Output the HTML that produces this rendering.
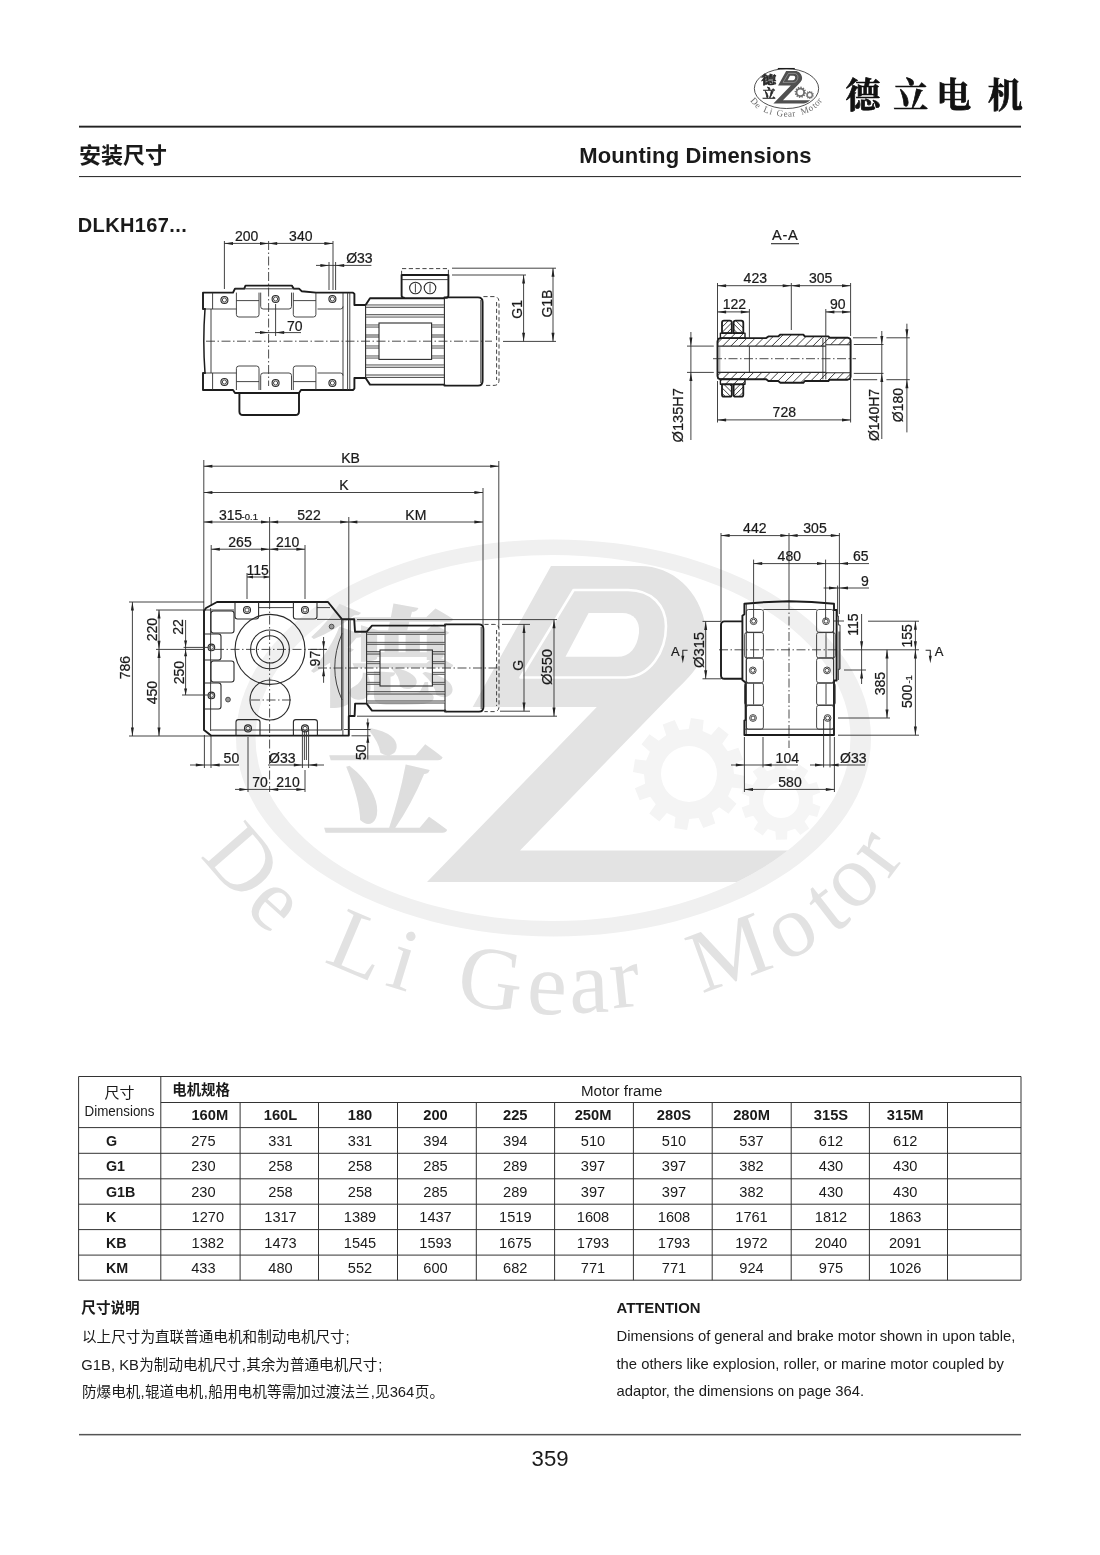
<!DOCTYPE html>
<html lang="zh"><head><meta charset="utf-8"><title>DLKH167 Mounting Dimensions</title>
<style>
html,body{margin:0;padding:0;background:#fff;}
body{width:1100px;height:1555px;overflow:hidden;font-family:"Liberation Sans","Noto Sans CJK SC",sans-serif;}
svg{display:block;position:absolute;left:0;top:0;will-change:transform;}
svg text{font-family:"Liberation Sans","Noto Sans CJK SC",sans-serif;fill:#1a1a1a;}
.o{fill:none;stroke:#1c1c1c;stroke-width:1.9;stroke-linejoin:round;stroke-linecap:round}
.m{fill:none;stroke:#2a2a2a;stroke-width:1.1;stroke-linejoin:round}
.t{fill:none;stroke:#2e2e2e;stroke-width:0.9}
.n{fill:none;stroke:#333;stroke-width:0.9;stroke-linejoin:round}
.c{fill:none;stroke:#2e2e2e;stroke-width:0.85;stroke-dasharray:9 2.5 1.5 2.5}
.h{fill:none;stroke:#2e2e2e;stroke-width:0.9;stroke-dasharray:4.2 2.6}
#d1 text,#d2 text,#d3 text,#d4 text{stroke:#1a1a1a;stroke-width:0.22px}
.a{fill:#222;stroke:none}
.wmb text,.lgb text{font-family:"Liberation Serif","Noto Serif CJK SC",serif;font-weight:bold;font-size:1000px}
.wmb text{fill:#dedede;stroke:#dedede;stroke-width:14}
.lgb text{fill:#2a2a2a;stroke:#2a2a2a;stroke-width:50}
.wmt text,.lgt text{font-family:"Liberation Serif",serif;font-size:89px}
.wmt text{fill:#e2e2e2}
.lgt text{fill:#6a6a6a}
</style></head><body>
<svg width="1100" height="1555" viewBox="0 0 1100 1555">
<g id="wm">
<path d="M236.0,738A317.5,198.5 0 1 0 871.0,738A317.5,198.5 0 1 0 236.0,738ZM255.5,738A297.5,183 0 1 0 850.5,738A297.5,183 0 1 0 255.5,738Z" fill="#f0f0f0" fill-rule="evenodd"/>
<defs><clipPath id="wmc"><ellipse cx="553" cy="738" rx="297.5" ry="183"/></clipPath></defs>
<path d="M745.0,775.9L743.0,788.7L731.9,787.6L728.1,796.2L736.5,803.7L728.5,813.7L719.3,807.2L711.8,812.8L715.3,823.4L703.3,828.1L698.7,817.9L689.3,819.0L687.1,830.0L674.3,828.0L675.4,816.9L666.8,813.1L659.3,821.5L649.3,813.5L655.8,804.3L650.2,796.8L639.6,800.3L634.9,788.3L645.1,783.7L644.0,774.3L633.0,772.1L635.0,759.3L646.1,760.4L649.9,751.8L641.5,744.3L649.5,734.3L658.7,740.8L666.2,735.2L662.7,724.6L674.7,719.9L679.3,730.1L688.7,729.0L690.9,718.0L703.7,720.0L702.6,731.1L711.2,734.9L718.7,726.5L728.7,734.5L722.2,743.7L727.8,751.2L738.4,747.7L743.1,759.7L732.9,764.3L734.0,773.7ZM661.0,774A28,28 0 1 0 717.0,774A28,28 0 1 0 661.0,774Z" fill="#f4f4f4" fill-rule="evenodd"/>
<path d="M820.5,806.4L817.2,817.0L809.3,815.0L804.6,821.6L809.2,828.4L800.3,835.0L795.0,828.8L787.4,831.3L787.1,839.5L776.0,839.7L775.4,831.5L767.8,829.1L762.7,835.6L753.7,829.2L758.0,822.2L753.2,815.8L745.3,818.0L741.7,807.6L749.3,804.5L749.2,796.4L741.5,793.6L744.8,783.0L752.7,785.0L757.4,778.4L752.8,771.6L761.7,765.0L767.0,771.2L774.6,768.7L774.9,760.5L786.0,760.3L786.6,768.5L794.2,770.9L799.3,764.4L808.3,770.8L804.0,777.8L808.8,784.2L816.7,782.0L820.3,792.4L812.7,795.5L812.8,803.6ZM763.0,800A18,18 0 1 0 799.0,800A18,18 0 1 0 763.0,800Z" fill="#f5f5f5" fill-rule="evenodd"/>
<g clip-path="url(#wmc)"><path d="M551,566H640C672,566 700,590 706,628C709,652 700,668 676,690L520,850.5H800V882H427L596.8,707H472.7Z" fill="#e3e3e3"/>
<path d="M573.6,590H628C652,590 666,606 666,626C666,652 650,676 626,677.5H520.5Z" fill="none" stroke="#fff" stroke-width="2.6" stroke-linejoin="round"/>
<path d="M588.6,613H622C634,613 640,621 639,633C637,648 630,656.8 617,656.8H565.5Z" fill="#fff"/>
</g>
<g class="wmb">
<text transform="translate(309.07,697.35) scale(0.14690,0.10841)">德</text>
<text transform="translate(321.74,829.41) scale(0.12761,0.11727)">立</text>
</g>
<g class="wmt">
<text transform="translate(199.5,856.0) rotate(49.0)">D</text>
<text transform="translate(243.0,909.6) rotate(42.0)">e</text>
<text transform="translate(323.0,961.5) rotate(23.0)">L</text>
<text transform="translate(383.8,984.8) rotate(17.0)">i</text>
<text transform="translate(455.0,1003.5) rotate(8.0)">G</text>
<text transform="translate(526.0,1013.0) rotate(3.0)">e</text>
<text transform="translate(570.0,1013.0) rotate(-2.0)">a</text>
<text transform="translate(612.5,1008.5) rotate(-6.0)">r</text>
<text transform="translate(701.8,993.7) rotate(-20.0)">M</text>
<text transform="translate(784.4,963.5) rotate(-30.0)">o</text>
<text transform="translate(832.9,935.1) rotate(-38.0)">t</text>
<text transform="translate(853.3,914.7) rotate(-45.0)">o</text>
<text transform="translate(888.0,880.0) rotate(-53.0)">r</text>
</g>
</g>

<g id="header">
<rect x="79" y="125.7" width="942" height="1.9" fill="#222"/>
<rect x="79" y="176" width="942" height="1.1" fill="#333"/>
<text x="79" y="163.2" font-size="22" font-weight="bold">安装尺寸</text>
<text x="579.2" y="163" font-size="22" font-weight="bold" letter-spacing="0.14">Mounting Dimensions</text>
<text x="77.8" y="231.8" font-size="20" font-weight="bold" letter-spacing="0.38">DLKH167...</text>
<g id="lg" transform="translate(786.5,88.6) scale(0.1027) translate(-554.5,-738)">
<ellipse cx="554.5" cy="738" rx="313" ry="194" fill="none" stroke="#1c1c1c" stroke-width="7.5"/>
<rect x="470" y="537" width="165" height="13" fill="#1c1c1c"/>
<defs><clipPath id="lgc"><ellipse cx="553" cy="738" rx="297.5" ry="183"/></clipPath></defs>
<path d="M745.0,775.9L743.0,788.7L731.9,787.6L728.1,796.2L736.5,803.7L728.5,813.7L719.3,807.2L711.8,812.8L715.3,823.4L703.3,828.1L698.7,817.9L689.3,819.0L687.1,830.0L674.3,828.0L675.4,816.9L666.8,813.1L659.3,821.5L649.3,813.5L655.8,804.3L650.2,796.8L639.6,800.3L634.9,788.3L645.1,783.7L644.0,774.3L633.0,772.1L635.0,759.3L646.1,760.4L649.9,751.8L641.5,744.3L649.5,734.3L658.7,740.8L666.2,735.2L662.7,724.6L674.7,719.9L679.3,730.1L688.7,729.0L690.9,718.0L703.7,720.0L702.6,731.1L711.2,734.9L718.7,726.5L728.7,734.5L722.2,743.7L727.8,751.2L738.4,747.7L743.1,759.7L732.9,764.3L734.0,773.7ZM661.0,774A28,28 0 1 0 717.0,774A28,28 0 1 0 661.0,774Z" fill="#6e6e6e" fill-rule="evenodd"/>
<path d="M820.5,806.4L817.2,817.0L809.3,815.0L804.6,821.6L809.2,828.4L800.3,835.0L795.0,828.8L787.4,831.3L787.1,839.5L776.0,839.7L775.4,831.5L767.8,829.1L762.7,835.6L753.7,829.2L758.0,822.2L753.2,815.8L745.3,818.0L741.7,807.6L749.3,804.5L749.2,796.4L741.5,793.6L744.8,783.0L752.7,785.0L757.4,778.4L752.8,771.6L761.7,765.0L767.0,771.2L774.6,768.7L774.9,760.5L786.0,760.3L786.6,768.5L794.2,770.9L799.3,764.4L808.3,770.8L804.0,777.8L808.8,784.2L816.7,782.0L820.3,792.4L812.7,795.5L812.8,803.6ZM763.0,800A18,18 0 1 0 799.0,800A18,18 0 1 0 763.0,800Z" fill="#777" fill-rule="evenodd"/>
<g clip-path="url(#lgc)"><path d="M551,566H640C672,566 700,590 706,628C709,652 700,668 676,690L520,850.5H800V882H427L596.8,707H472.7Z" fill="#505050"/>
<path d="M573.6,590H628C652,590 666,606 666,626C666,652 650,676 626,677.5H520.5Z" fill="none" stroke="#fff" stroke-width="3.2" stroke-linejoin="round"/>
<path d="M588.6,613H622C634,613 640,621 639,633C637,648 630,656.8 617,656.8H565.5Z" fill="#fff"/>
</g>
<g class="lgb">
<text transform="translate(309.07,697.35) scale(0.14690,0.10841)">德</text>
<text transform="translate(321.74,829.41) scale(0.12761,0.11727)">立</text>
</g>
<g class="lgt">
<text transform="translate(199.5,856.0) rotate(49.0)">D</text>
<text transform="translate(243.0,909.6) rotate(42.0)">e</text>
<text transform="translate(323.0,961.5) rotate(23.0)">L</text>
<text transform="translate(383.8,984.8) rotate(17.0)">i</text>
<text transform="translate(455.0,1003.5) rotate(8.0)">G</text>
<text transform="translate(526.0,1013.0) rotate(3.0)">e</text>
<text transform="translate(570.0,1013.0) rotate(-2.0)">a</text>
<text transform="translate(612.5,1008.5) rotate(-6.0)">r</text>
<text transform="translate(701.8,993.7) rotate(-20.0)">M</text>
<text transform="translate(784.4,963.5) rotate(-30.0)">o</text>
<text transform="translate(832.9,935.1) rotate(-38.0)">t</text>
<text transform="translate(853.3,914.7) rotate(-45.0)">o</text>
<text transform="translate(888.0,880.0) rotate(-53.0)">r</text>
</g>
</g>
<g id="brand"><text x="845.4 893.3 936.2 987.8" y="108.2" font-size="35" style="fill:#111;stroke:#111;stroke-width:0.7;font-family:'Liberation Serif','Noto Serif CJK SC',serif;font-weight:bold">德立电机</text></g>

</g>
<g id="d1">
<path class="c" d="M268.6,241L268.6,386"/>
<path class="t" d="M503,341.4L556,341.4"/>
<path class="o" d="M205,309H203V292.6H233L235,288.6H244.2L245.5,285.6H291.8L293.6,288.6H299L301.6,291.2L316,292.6H353L354.4,294V305H365.6" />
<path class="o" d="M205,373H203V390H233L235,393H299L301,390H353L354.4,388.6V378H365.6" />
<path class="o" d="M205,309Q202.6,341 205,373" style="stroke-width:1.5"/>
<path class="o" d="M239.4,393V411.5Q239.4,415 243,415H295.4Q299,415 299,411.5V393" />
<path class="t" d="M235,288.8H299" />
<path class="t" d="M212.6,292.6L212.6,309"/>
<path class="t" d="M212.6,373L212.6,390"/>
<path class="t" d="M211,309L211,373"/>
<path class="t" d="M343,292.6L343,390"/>
<path class="n" d="M347.6,292.6L347.6,390"/>
<path class="n" d="M349.8,292.6L349.8,390"/>
<path class="n" d="M203,309H236.4" />
<path class="n" d="M203,373H236.4" />
<path class="n" d="M236.4,292.6V314.5Q236.4,317 238.9,317H256.5Q259.0,317 259.0,314.5V292.6" />
<path class="n" d="M236.4,300.6L259,300.6"/>
<path class="n" d="M236.4,390V368.5Q236.4,366 238.9,366H256.5Q259.0,366 259.0,368.5V390" />
<path class="n" d="M236.4,381.6L259,381.6"/>
<path class="n" d="M293.3,292.6V314.5Q293.3,317 295.8,317H313.40000000000003Q315.90000000000003,317 315.90000000000003,314.5V292.6" />
<path class="n" d="M293.3,300.6L315.9,300.6"/>
<path class="n" d="M293.3,390V368.5Q293.3,366 295.8,366H313.40000000000003Q315.90000000000003,366 315.90000000000003,368.5V390" />
<path class="n" d="M293.3,381.6L315.9,381.6"/>
<path class="n" d="M260.7,292.6V306.5Q260.7,309 263.2,309H289Q291.5,309 291.5,306.5V292.6" />
<path class="n" d="M260.7,390V375.5Q260.7,373 263.2,373H289Q291.5,373 291.5,375.5V390" />
<path class="n" d="M317.5,309H340.5Q343,309 343,306.5" />
<path class="n" d="M317.5,373H340.5Q343,373 343,375.5" />
<circle class="m" cx="224.4" cy="300" r="3.5" />
<circle class="t" cx="224.4" cy="300" r="2.1" />
<circle class="m" cx="275.6" cy="299" r="3.5" />
<circle class="t" cx="275.6" cy="299" r="2.1" />
<circle class="m" cx="332.4" cy="299" r="3.5" />
<circle class="t" cx="332.4" cy="299" r="2.1" />
<circle class="m" cx="224.4" cy="382" r="3.5" />
<circle class="t" cx="224.4" cy="382" r="2.1" />
<circle class="m" cx="275.6" cy="383" r="3.5" />
<circle class="t" cx="275.6" cy="383" r="2.1" />
<circle class="m" cx="332.4" cy="383" r="3.5" />
<circle class="t" cx="332.4" cy="383" r="2.1" />
<path class="o" d="M365.6,305L370,298.2H444.4" />
<path class="o" d="M365.6,378L370,384.6H444.4" />
<path class="m" d="M365.6,305L365.6,378"/>
<path class="o" d="M444.4,297.4H478Q482.6,297.4 482.6,302V381Q482.6,385.6 478,385.6H444.4" />
<path class="m" d="M444.4,297.4L444.4,385.6"/>
<path class="t" d="M480.8,300L480.8,383"/>
<path class="t" d="M366,305L444,305"/>
<path class="t" d="M366,307.4L444,307.4"/>
<path class="t" d="M366,314.6L444,314.6"/>
<path class="t" d="M366,317L444,317"/>
<path class="t" d="M366,325L444,325"/>
<path class="t" d="M366,327L444,327"/>
<path class="t" d="M366,335L444,335"/>
<path class="t" d="M366,337L444,337"/>
<path class="t" d="M366,346L444,346"/>
<path class="t" d="M366,348L444,348"/>
<path class="t" d="M366,356L444,356"/>
<path class="t" d="M366,358L444,358"/>
<path class="t" d="M366,365L444,365"/>
<path class="t" d="M366,367.4L444,367.4"/>
<path class="t" d="M366,375L444,375"/>
<path class="t" d="M366,377.4L444,377.4"/>
<rect x="366" y="305.0" width="78" height="2.4" fill="#bbb" opacity=".55"/>
<rect x="366" y="314.6" width="78" height="2.4" fill="#bbb" opacity=".55"/>
<rect x="366" y="324.6" width="78" height="2.4" fill="#bbb" opacity=".55"/>
<rect x="366" y="345.6" width="78" height="2.4" fill="#bbb" opacity=".55"/>
<rect x="366" y="355.6" width="78" height="2.4" fill="#bbb" opacity=".55"/>
<rect x="366" y="365.0" width="78" height="2.4" fill="#bbb" opacity=".55"/>
<rect x="379" y="323" width="52.6" height="36.4" fill="#fff" stroke="#2a2a2a" stroke-width="1.1"/>
<path class="c" d="M206,341.2L492,341.2"/>
<path class="o" d="M401.6,295.4V275H448.4V295.4Q448.4,297.6 446,297.8M401.6,295.4Q401.6,297.6 404,297.8" />
<path class="n" d="M401.6,279.6L448.4,279.6"/>
<circle class="m" cx="415.4" cy="288" r="5.8" />
<path class="t" d="M415.4,283.5L415.4,292.5"/>
<circle class="m" cx="430" cy="288" r="5.8" />
<path class="t" d="M430,283.5L430,292.5"/>
<path class="h" d="M401.6,275V268.6H448.4V275" />
<path class="h" d="M483.4,296.6H494Q499,296.6 499,302V380Q499,385.4 494,385.4H483.4" />
<path class="h" d="M496.6,302L496.6,380"/>
<path class="t" d="M224.4,241L224.4,289"/>
<path class="t" d="M333,241L333,290"/>
<path class="t" d="M224.4,243.4L268.6,243.4"/>
<path class="a" d="M224.4,243.4L233,241.9L233,244.9Z"/>
<path class="a" d="M268.6,243.4L260,241.9L260,244.9Z"/>
<path class="t" d="M268.6,243.4L333,243.4"/>
<path class="a" d="M268.6,243.4L277.2,241.9L277.2,244.9Z"/>
<path class="a" d="M333,243.4L324.4,241.9L324.4,244.9Z"/>
<text x="246.6" y="241" font-size="14" text-anchor="middle" >200</text>
<text x="300.8" y="241" font-size="14" text-anchor="middle" >340</text>
<path class="t" d="M329,262L329,290"/>
<path class="t" d="M335.6,262L335.6,290"/>
<path class="t" d="M316,265.4L371.4,265.4"/>
<path class="a" d="M329,265.4L320.4,263.9L320.4,266.9Z"/>
<path class="a" d="M335.6,265.4L344.2,263.9L344.2,266.9Z"/>
<text x="346.2" y="262.8" font-size="14" >Ø33</text>
<path class="t" d="M275.6,304L275.6,336"/>
<path class="t" d="M255,332.6L301,332.6"/>
<path class="a" d="M268.6,332.6L260,331.1L260,334.1Z"/>
<path class="a" d="M275.6,332.6L284.2,331.1L284.2,334.1Z"/>
<text x="287" y="330.6" font-size="14" >70</text>
<path class="t" d="M452,275L526,275"/>
<path class="t" d="M452,268.2L556,268.2"/>
<path class="t" d="M523.6,275L523.6,341.4"/>
<path class="a" d="M523.6,275L522.1,283.6L525.1,283.6Z"/>
<path class="a" d="M523.6,341.4L522.1,332.8L525.1,332.8Z"/>
<path class="t" d="M553,268.2L553,341.4"/>
<path class="a" d="M553,268.2L551.5,276.8L554.5,276.8Z"/>
<path class="a" d="M553,341.4L551.5,332.8L554.5,332.8Z"/>
<text x="522.4" y="309.4" font-size="14" text-anchor="middle" transform="rotate(-90 522.4 309.4)" >G1</text>
<text x="551.6" y="303.6" font-size="14" text-anchor="middle" transform="rotate(-90 551.6 303.6)" >G1B</text>
</g>

<g id="d2">
<text x="785.3" y="239.8" font-size="14.6" text-anchor="middle" letter-spacing="0.7">A-A</text>
<path class="m" d="M771,243.7L799,243.7"/>
<defs><clipPath id="hc"><path d="M717.5,341.5L718.2,339L720.6,338.1L766.2,338.1L768.4,336.4L778.2,336.4L780.4,334.6L803.3,334.6L804.8,336.4L828.4,336.4L829.6,337.7L847.6,337.7L850,338.6L850.6,340.6L850.6,344.8L825.8,344.8L825.8,346.1L717.5,346.1Z"/><path d="M717.5,375.9L718.2,378.4L720.6,379.3L766.2,379.3L768.4,381L778.2,381L780.4,382.8L803.3,382.8L804.8,381L828.4,381L829.6,379.7L847.6,379.7L850,378.8L850.6,376.8L850.6,372.7L825.8,372.7L825.8,372.4L717.5,372.4Z"/><path d="M720.4,338.1V333.1H745V338.1Z"/><path d="M720.4,379.3V384.3H745V379.3Z"/></clipPath><clipPath id="hd1"><path d="M722,333.1V322.7Q722,320.7 724,320.7H729.8Q731.8,320.7 731.8,322.7V333.1Z"/><path d="M733.6,384.3V394.7Q733.6,396.7 735.6,396.7H741.3Q743.3,396.7 743.3,394.7V384.3Z"/></clipPath><clipPath id="hd2"><path d="M733.6,333.1V322.7Q733.6,320.7 735.6,320.7H741.3Q743.3,320.7 743.3,322.7V333.1Z"/><path d="M722,384.3V394.7Q722,396.7 724,396.7H729.8Q731.8,396.7 731.8,394.7V384.3Z"/></clipPath></defs>
<path clip-path="url(#hc)" d="M660.5,400L750.5,310M668.7,400L758.7,310M676.9,400L766.9,310M685.1,400L775.1,310M693.3,400L783.3,310M701.5,400L791.5,310M709.7,400L799.7,310M717.9,400L807.9,310M726.1,400L816.1,310M734.3,400L824.3,310M742.5,400L832.5,310M750.7,400L840.7,310M758.9,400L848.9,310M767.1,400L857.1,310M775.3,400L865.3,310M783.5,400L873.5,310M791.7,400L881.7,310M799.9,400L889.9,310M808.1,400L898.1,310M816.3,400L906.3,310M824.5,400L914.5,310M832.7,400L922.7,310M840.9,400L930.9,310M849.1,400L939.1,310M857.3,400L947.3,310M865.5,400L955.5,310M873.7,400L963.7,310M881.9,400L971.9,310M890.1,400L980.1,310M898.3,400L988.3,310" fill="none" stroke="#2a2a2a" stroke-width="0.9"/>
<path clip-path="url(#hd1)" d="M600.5,400L690.5,310M605.9,400L695.9,310M611.3,400L701.3,310M616.7,400L706.7,310M622.1,400L712.1,310M627.5,400L717.5,310M632.9,400L722.9,310M638.3,400L728.3,310M643.7,400L733.7,310M649.1,400L739.1,310M654.5,400L744.5,310M659.9,400L749.9,310M665.3,400L755.3,310M670.7,400L760.7,310M676.1,400L766.1,310M681.5,400L771.5,310M686.9,400L776.9,310M692.3,400L782.3,310M697.7,400L787.7,310M703.1,400L793.1,310M708.5,400L798.5,310M713.9,400L803.9,310M719.3,400L809.3,310M724.7,400L814.7,310M730.1,400L820.1,310M735.5,400L825.5,310M740.9,400L830.9,310M746.3,400L836.3,310M751.7,400L841.7,310M757.1,400L847.1,310M762.5,400L852.5,310M767.9,400L857.9,310M773.3,400L863.3,310M778.7,400L868.7,310M784.1,400L874.1,310M789.5,400L879.5,310M794.9,400L884.9,310M800.3,400L890.3,310M805.7,400L895.7,310M811.1,400L901.1,310M816.5,400L906.5,310M821.9,400L911.9,310M827.3,400L917.3,310M832.7,400L922.7,310M838.1,400L928.1,310M843.5,400L933.5,310M848.9,400L938.9,310M854.3,400L944.3,310M859.7,400L949.7,310M865.1,400L955.1,310" fill="none" stroke="#2a2a2a" stroke-width="0.9"/>
<path clip-path="url(#hd2)" d="M601,310L691,400M606.4,310L696.4,400M611.8,310L701.8,400M617.2,310L707.2,400M622.6,310L712.6,400M628,310L718,400M633.4,310L723.4,400M638.8,310L728.8,400M644.2,310L734.2,400M649.6,310L739.6,400M655,310L745,400M660.4,310L750.4,400M665.8,310L755.8,400M671.2,310L761.2,400M676.6,310L766.6,400M682,310L772,400M687.4,310L777.4,400M692.8,310L782.8,400M698.2,310L788.2,400M703.6,310L793.6,400M709,310L799,400M714.4,310L804.4,400M719.8,310L809.8,400M725.2,310L815.2,400M730.6,310L820.6,400M736,310L826,400M741.4,310L831.4,400M746.8,310L836.8,400M752.2,310L842.2,400M757.6,310L847.6,400M763,310L853,400M768.4,310L858.4,400M773.8,310L863.8,400M779.2,310L869.2,400M784.6,310L874.6,400M790,310L880,400M795.4,310L885.4,400M800.8,310L890.8,400M806.2,310L896.2,400M811.6,310L901.6,400M817,310L907,400M822.4,310L912.4,400M827.8,310L917.8,400M833.2,310L923.2,400M838.6,310L928.6,400M844,310L934,400M849.4,310L939.4,400M854.8,310L944.8,400M860.2,310L950.2,400M865.6,310L955.6,400" fill="none" stroke="#2a2a2a" stroke-width="0.9"/>
<path class="o" d="M717.5,341.5L718.2,339L720.6,338.1L766.2,338.1L768.4,336.4L778.2,336.4L780.4,334.6L803.3,334.6L804.8,336.4L828.4,336.4L829.6,337.7L847.6,337.7L850,338.6L850.6,340.6L850.6,376.8L850,378.8L847.6,379.7L829.6,379.7L828.4,381L804.8,381L803.3,382.8L780.4,382.8L778.2,381L768.4,381L766.2,379.3L720.6,379.3L718.2,378.4L717.5,375.9Z" />
<path class="o" d="M722,333.1V322.7Q722,320.7 724,320.7H729.8Q731.8,320.7 731.8,322.7V333.1Z" style="stroke-width:1.8"/>
<path class="o" d="M733.6,333.1V322.7Q733.6,320.7 735.6,320.7H741.3Q743.3,320.7 743.3,322.7V333.1Z" style="stroke-width:1.8"/>
<path class="o" d="M722,384.3V394.7Q722,396.7 724,396.7H729.8Q731.8,396.7 731.8,394.7V384.3Z" style="stroke-width:1.8"/>
<path class="o" d="M733.6,384.3V394.7Q733.6,396.7 735.6,396.7H741.3Q743.3,396.7 743.3,394.7V384.3Z" style="stroke-width:1.8"/>
<path class="o" d="M720.4,338.1V333.1H745V338.1Z" style="stroke-width:1.4"/>
<path class="o" d="M720.4,379.3V384.3H745V379.3Z" style="stroke-width:1.4"/>
<path class="m" d="M717.5,346.1H825.8M717.5,372.4H825.8" />
<path class="m" d="M825.8,344.8H850.6M825.8,372.7H850.6" />
<path class="t" d="M749.4,346.1L749.4,372.4"/>
<path class="t" d="M822.9,338L822.9,379.4"/>
<path class="t" d="M825.8,338L825.8,379.4"/>
<path d="M719.8,346.1V372.4" stroke="#555" stroke-width="0.6" fill="none"/>
<path class="c" d="M713,358.7L856,358.7"/>
<path class="t" d="M717.5,283L717.5,339"/>
<path class="t" d="M791.3,283L791.3,330"/>
<path class="t" d="M850.6,283L850.6,336"/>
<path class="t" d="M717.5,285.7L791.3,285.7"/>
<path class="a" d="M717.5,285.7L726.1,284.2L726.1,287.2Z"/>
<path class="a" d="M791.3,285.7L782.7,284.2L782.7,287.2Z"/>
<path class="t" d="M791.3,285.7L850.6,285.7"/>
<path class="a" d="M791.3,285.7L799.9,284.2L799.9,287.2Z"/>
<path class="a" d="M850.6,285.7L842,284.2L842,287.2Z"/>
<text x="755.3" y="283" font-size="14" text-anchor="middle" >423</text>
<text x="820.7" y="283" font-size="14" text-anchor="middle" >305</text>
<path class="t" d="M749.4,309L749.4,338.5"/>
<path class="t" d="M825.8,309L825.8,337.5"/>
<path class="t" d="M717.5,311.9L749.4,311.9"/>
<path class="a" d="M717.5,311.9L726.1,310.4L726.1,313.4Z"/>
<path class="a" d="M749.4,311.9L740.8,310.4L740.8,313.4Z"/>
<path class="t" d="M825.8,311.9L850.6,311.9"/>
<path class="a" d="M825.8,311.9L834.4,310.4L834.4,313.4Z"/>
<path class="a" d="M850.6,311.9L842,310.4L842,313.4Z"/>
<text x="734.4" y="309.2" font-size="14" text-anchor="middle" >122</text>
<text x="837.7" y="309.2" font-size="14" text-anchor="middle" >90</text>
<path class="t" d="M717.5,381L717.5,422.5"/>
<path class="t" d="M850.6,379L850.6,422.5"/>
<path class="t" d="M717.5,419.9L850.6,419.9"/>
<path class="a" d="M717.5,419.9L726.1,418.4L726.1,421.4Z"/>
<path class="a" d="M850.6,419.9L842,418.4L842,421.4Z"/>
<text x="784.3" y="416.8" font-size="14" text-anchor="middle" >728</text>
<path class="t" d="M687,346.1L713.8,346.1"/>
<path class="t" d="M687,372.4L713.8,372.4"/>
<path class="t" d="M690.9,332L690.9,440"/>
<path class="a" d="M690.9,346.1L689.4,337.5L692.4,337.5Z"/>
<path class="a" d="M690.9,372.4L689.4,381L692.4,381Z"/>
<text x="682.9" y="415.2" font-size="14.6" text-anchor="middle" transform="rotate(-90 682.9 415.2)" >Ø135H7</text>
<path class="t" d="M853.8,344.5L883.5,344.5"/>
<path class="t" d="M853.8,373.4L883.5,373.4"/>
<path class="t" d="M881.8,331L881.8,439"/>
<path class="a" d="M881.8,344.5L880.3,335.9L883.3,335.9Z"/>
<path class="a" d="M881.8,373.4L880.3,382L883.3,382Z"/>
<text x="879" y="415" font-size="14" text-anchor="middle" transform="rotate(-90 879 415)" >Ø140H7</text>
<path class="t" d="M853,337.8H877.2M886.4,337.8H909.8M853,379.7H877.2M886.4,379.7H909.8"/>
<path class="t" d="M906.9,323.7L906.9,432.4"/>
<path class="a" d="M906.9,337.8L905.4,329.2L908.4,329.2Z"/>
<path class="a" d="M906.9,379.6L905.4,388.2L908.4,388.2Z"/>
<text x="902.5" y="405" font-size="14" text-anchor="middle" transform="rotate(-90 902.5 405)" >Ø180</text>
</g>

<g id="d3">
<path class="t" d="M203.8,460L203.8,612"/>
<path class="t" d="M211.2,545L211.2,606"/>
<path class="t" d="M269.6,517L269.6,600"/>
<path class="c" d="M269.6,600L269.6,792"/>
<path class="t" d="M348.8,517L348.8,619"/>
<path class="t" d="M305,545L305,599"/>
<path class="t" d="M247,573L247,599"/>
<path class="t" d="M483,488L483,626"/>
<path class="t" d="M498.8,461L498.8,628"/>
<path class="t" d="M203.8,466.2L498.8,466.2"/>
<path class="a" d="M203.8,466.2L212.4,464.7L212.4,467.7Z"/>
<path class="a" d="M498.8,466.2L490.2,464.7L490.2,467.7Z"/>
<text x="350.5" y="463" font-size="14" text-anchor="middle" >KB</text>
<path class="t" d="M203.8,492.5L483,492.5"/>
<path class="a" d="M203.8,492.5L212.4,491L212.4,494Z"/>
<path class="a" d="M483,492.5L474.4,491L474.4,494Z"/>
<text x="343.8" y="490" font-size="14" text-anchor="middle" >K</text>
<path class="t" d="M203.8,522L269.6,522"/>
<path class="a" d="M203.8,522L212.4,520.5L212.4,523.5Z"/>
<path class="a" d="M269.6,522L261,520.5L261,523.5Z"/>
<path class="t" d="M269.6,522L348.8,522"/>
<path class="a" d="M269.6,522L278.2,520.5L278.2,523.5Z"/>
<path class="a" d="M348.8,522L340.2,520.5L340.2,523.5Z"/>
<path class="t" d="M348.8,522L483,522"/>
<path class="a" d="M348.8,522L357.4,520.5L357.4,523.5Z"/>
<path class="a" d="M483,522L474.4,520.5L474.4,523.5Z"/>
<text x="219" y="519.6" font-size="14" >315</text>
<text x="241.6" y="519.6" font-size="9.5" >-0.1</text>
<text x="309" y="519.6" font-size="14" text-anchor="middle" >522</text>
<text x="415.8" y="519.6" font-size="14" text-anchor="middle" >KM</text>
<path class="t" d="M211.2,549.2L269.6,549.2"/>
<path class="a" d="M211.2,549.2L219.8,547.7L219.8,550.7Z"/>
<path class="a" d="M269.6,549.2L261,547.7L261,550.7Z"/>
<path class="t" d="M269.6,549.2L305,549.2"/>
<path class="a" d="M269.6,549.2L278.2,547.7L278.2,550.7Z"/>
<path class="a" d="M305,549.2L296.4,547.7L296.4,550.7Z"/>
<text x="240" y="546.6" font-size="14" text-anchor="middle" >265</text>
<text x="287.6" y="546.6" font-size="14" text-anchor="middle" >210</text>
<path class="t" d="M247,577L269.6,577"/>
<path class="a" d="M247,577L253,575.5L253,578.5Z"/>
<path class="a" d="M269.6,577L263.6,575.5L263.6,578.5Z"/>
<text x="257.6" y="574.6" font-size="14" text-anchor="middle" >115</text>
<path class="o" d="M204,611L206,608L217,602H328L341.9,619.2H354.2L355,631.8H366.6L372,625.6H445" />
<path class="o" d="M204,611V730L211,735.6H348.8V716H354.6L355.1,703.6H366.6L372,710.6H445" />
<path class="t" d="M341.6,619.4L341.6,730"/>
<path class="t" d="M342.9,619.4L342.9,735"/>
<path class="m" d="M348.6,619.4L348.6,716"/>
<path class="t" d="M350.1,619.4L350.1,716"/>
<path class="t" d="M210.6,608L210.6,731"/>
<path class="t" d="M211,730L342,730"/>
<path class="t" d="M259,607.6L293,607.6"/>
<path class="t" d="M317,607.6L330,607.6"/>
<path class="m" d="M235,602.5V616.5Q235,619 237.5,619H256Q258.6,619 258.6,616.5V602.5" />
<circle class="m" cx="247" cy="610" r="3.5" />
<circle class="t" cx="247" cy="610" r="2.1" />
<path class="m" d="M293.4,602.5V616.5Q293.4,619 295.9,619H314.4Q317.0,619 317.0,616.5V602.5" />
<circle class="m" cx="305" cy="610" r="3.5" />
<circle class="t" cx="305" cy="610" r="2.1" />
<path class="m" d="M236,735.5V722Q236,719.6 238.5,719.6H257.4Q260,719.6 260,722V735.5" />
<circle class="m" cx="248" cy="728.4" r="3.5" />
<circle class="t" cx="248" cy="728.4" r="2.1" />
<path class="m" d="M293.4,735.5V722Q293.4,719.6 295.9,719.6H314.79999999999995Q317.4,719.6 317.4,722V735.5" />
<circle class="m" cx="305" cy="728.4" r="3.5" />
<circle class="t" cx="305" cy="728.4" r="2.1" />
<rect class="m" x="211" y="611" width="23" height="22" rx="2.5"/>
<rect class="m" x="211" y="661" width="23" height="21" rx="2.5"/>
<path class="m" d="M204.5,634H218.5Q221,634 221,636.5V657.5Q221,660 218.5,660H204.5" />
<circle class="m" cx="211.4" cy="647.4" r="3.3" />
<circle class="t" cx="211.4" cy="647.4" r="2" />
<path class="m" d="M204.5,683H218.5Q221,683 221,685.5V706.5Q221,709 218.5,709H204.5" />
<circle class="m" cx="211.4" cy="695.4" r="3.3" />
<circle class="t" cx="211.4" cy="695.4" r="2" />
<circle class="m" cx="270" cy="649.4" r="35" />
<circle class="m" cx="270" cy="649.4" r="19.4" />
<circle class="m" cx="270" cy="649.4" r="13.6" />
<circle class="m" cx="270" cy="700" r="20" />
<circle cx="331.6" cy="626.6" r="2.4" fill="#999" stroke="#333" stroke-width="0.8"/>
<circle cx="228" cy="699.6" r="2.4" fill="#999" stroke="#333" stroke-width="0.8"/>
<path class="t" d="M342.1,633.3Q327.4,668.4 342.1,700" />
<path class="t" d="M317,619.4L341.6,619.4"/>
<path class="c" d="M215,649.4L327,649.4"/>
<path class="c" d="M251,700L291,700"/>
<path class="c" d="M318,668L499,668"/>
<path class="t" d="M323.6,637L323.6,682.8"/>
<path class="a" d="M323.6,649.3L322.1,641.3L325.1,641.3Z"/>
<path class="a" d="M323.6,668.3L322.1,676.3L325.1,676.3Z"/>
<path class="t" d="M310.4,649.4L326.6,649.4"/>
<text x="319.6" y="658.6" font-size="14" text-anchor="middle" transform="rotate(-90 319.6 658.6)" >97</text>
<path class="m" d="M366.6,632.4L366.6,703.6"/>
<path class="o" d="M445,624.4H479Q483.4,624.4 483.4,629V707Q483.4,711.6 479,711.6H445" />
<path class="m" d="M445,711.6V624.4" />
<path class="m" d="M447,624.4Q445,624.4 445,626.4M447,711.6Q445,711.6 445,709.6" />
<path class="t" d="M481.2,627L481.2,709"/>
<path class="t" d="M367,632.4L445,632.4"/>
<path class="t" d="M367,634.4L445,634.4"/>
<path class="t" d="M367,642.4L445,642.4"/>
<path class="t" d="M367,644.4L445,644.4"/>
<path class="t" d="M367,651.6L380,651.6"/>
<path class="t" d="M432.4,651.6L445,651.6"/>
<path class="t" d="M367,654L380,654"/>
<path class="t" d="M432.4,654L445,654"/>
<path class="t" d="M367,661.6L380,661.6"/>
<path class="t" d="M432.4,661.6L445,661.6"/>
<path class="t" d="M367,663.6L380,663.6"/>
<path class="t" d="M432.4,663.6L445,663.6"/>
<path class="t" d="M367,672.4L380,672.4"/>
<path class="t" d="M432.4,672.4L445,672.4"/>
<path class="t" d="M367,674.4L380,674.4"/>
<path class="t" d="M432.4,674.4L445,674.4"/>
<path class="t" d="M367,682.4L380,682.4"/>
<path class="t" d="M432.4,682.4L445,682.4"/>
<path class="t" d="M367,684.4L380,684.4"/>
<path class="t" d="M432.4,684.4L445,684.4"/>
<path class="t" d="M367,691.6L445,691.6"/>
<path class="t" d="M367,694L445,694"/>
<path class="t" d="M367,701L445,701"/>
<path class="t" d="M367,703L445,703"/>
<rect x="367" y="632.4" width="78" height="2.2" fill="#aaa" opacity=".5"/>
<rect x="367" y="642.4" width="78" height="2.2" fill="#aaa" opacity=".5"/>
<rect x="367" y="651.6" width="13" height="2.2" fill="#aaa" opacity=".5"/><rect x="432.4" y="651.6" width="12.6" height="2.2" fill="#aaa" opacity=".5"/>
<rect x="367" y="661.6" width="13" height="2.2" fill="#aaa" opacity=".5"/><rect x="432.4" y="661.6" width="12.6" height="2.2" fill="#aaa" opacity=".5"/>
<rect x="367" y="672.4" width="13" height="2.2" fill="#aaa" opacity=".5"/><rect x="432.4" y="672.4" width="12.6" height="2.2" fill="#aaa" opacity=".5"/>
<rect x="367" y="682.4" width="13" height="2.2" fill="#aaa" opacity=".5"/><rect x="432.4" y="682.4" width="12.6" height="2.2" fill="#aaa" opacity=".5"/>
<rect x="367" y="691.6" width="78" height="2.2" fill="#aaa" opacity=".5"/>
<rect x="367" y="701" width="78" height="2.2" fill="#aaa" opacity=".5"/>
<rect x="380" y="650" width="52.4" height="36" fill="none" stroke="#2a2a2a" stroke-width="1.1"/>
<path class="h" d="M484.4,624.4H494Q499,624.4 499,629.4V706.6Q499,711.6 494,711.6H484.4" />
<path class="h" d="M496.6,630L496.6,706"/>
<path class="t" d="M357,619.6L557,619.6"/>
<path class="t" d="M357,716.2L557,716.2"/>
<path class="t" d="M502,624.4L530,624.4"/>
<path class="t" d="M500,711.2L530,711.2"/>
<path class="t" d="M524,624.4L524,711.2"/>
<path class="a" d="M524,624.4L522.5,633L525.5,633Z"/>
<path class="a" d="M524,711.2L522.5,702.6L525.5,702.6Z"/>
<path class="t" d="M554,619.6L554,716.2"/>
<path class="a" d="M554,619.6L552.5,628.2L555.5,628.2Z"/>
<path class="a" d="M554,716.2L552.5,707.6L555.5,707.6Z"/>
<text x="522.6" y="665.4" font-size="14" text-anchor="middle" transform="rotate(-90 522.6 665.4)" >G</text>
<text x="552.4" y="667" font-size="14.8" text-anchor="middle" transform="rotate(-90 552.4 667)" >Ø550</text>
<path class="t" d="M129,602L204,602"/>
<path class="t" d="M129,736L211,736"/>
<path class="t" d="M132.4,602L132.4,736"/>
<path class="a" d="M132.4,602L130.9,610.6L133.9,610.6Z"/>
<path class="a" d="M132.4,736L130.9,727.4L133.9,727.4Z"/>
<text x="130.2" y="667.6" font-size="14" text-anchor="middle" transform="rotate(-90 130.2 667.6)" >786</text>
<path class="t" d="M156,610L234,610"/>
<path class="t" d="M156,649.4L203,649.4"/>
<path class="t" d="M159,610L159,649.4"/>
<path class="a" d="M159,610L157.5,618.6L160.5,618.6Z"/>
<path class="a" d="M159,649.4L157.5,640.8L160.5,640.8Z"/>
<path class="t" d="M159,649.4L159,736"/>
<path class="a" d="M159,649.4L157.5,658L160.5,658Z"/>
<path class="a" d="M159,736L157.5,727.4L160.5,727.4Z"/>
<text x="157.2" y="629.6" font-size="14" text-anchor="middle" transform="rotate(-90 157.2 629.6)" >220</text>
<text x="157.2" y="692.6" font-size="14" text-anchor="middle" transform="rotate(-90 157.2 692.6)" >450</text>
<path class="t" d="M183.6,647.4L208,647.4"/>
<path class="t" d="M182,695L208,695"/>
<path class="t" d="M185.6,620L185.6,695"/>
<path class="a" d="M185.6,647L184.1,640.5L187.1,640.5Z"/>
<path class="a" d="M185.6,649.8L184.1,656.3L187.1,656.3Z"/>
<path class="a" d="M185.6,695L184.1,688.5L187.1,688.5Z"/>
<text x="183.4" y="627" font-size="14" text-anchor="middle" transform="rotate(-90 183.4 627)" >22</text>
<text x="183.6" y="672.6" font-size="14" text-anchor="middle" transform="rotate(-90 183.6 672.6)" >250</text>
<path class="t" d="M204.4,735L204.4,768"/>
<path class="t" d="M211,736L211,768"/>
<path class="t" d="M190,765L239,765"/>
<path class="a" d="M204.4,765L195.8,763.5L195.8,766.5Z"/>
<path class="a" d="M211,765L219.6,763.5L219.6,766.5Z"/>
<text x="223.6" y="763" font-size="14" >50</text>
<path class="t" d="M302.4,729L302.4,768"/>
<path class="t" d="M308.6,729L308.6,768"/>
<path class="t" d="M304.4,731L304.4,760"/>
<path class="t" d="M306.4,731L306.4,760"/>
<path class="t" d="M268,765L324,765"/>
<path class="a" d="M302.4,765L293.8,763.5L293.8,766.5Z"/>
<path class="a" d="M308.6,765L317.2,763.5L317.2,766.5Z"/>
<text x="269" y="763" font-size="14" >Ø33</text>
<path class="t" d="M248,737L248,792"/>
<path class="t" d="M305,770L305,792"/>
<path class="t" d="M235,789.4L305,789.4"/>
<path class="a" d="M248,789.4L239.4,787.9L239.4,790.9Z"/>
<path class="a" d="M269.6,789.4L278.2,787.9L278.2,790.9Z"/>
<path class="a" d="M305,789.4L296.4,787.9L296.4,790.9Z"/>
<text x="252.2" y="786.6" font-size="14" >70</text>
<text x="288" y="786.6" font-size="14" text-anchor="middle" >210</text>
<path class="t" d="M344,729.5L370.5,729.5"/>
<path class="t" d="M351.5,735.8L370.5,735.8"/>
<path class="t" d="M367.8,718.5L367.8,759.5"/>
<path class="a" d="M367.8,729.5L366.3,722.5L369.3,722.5Z"/>
<path class="a" d="M367.8,735.8L366.3,742.8L369.3,742.8Z"/>
<text x="366" y="752.2" font-size="14" text-anchor="middle" transform="rotate(-90 366 752.2)" >50</text>
</g>

<g id="d4">
<path class="t" d="M789,533L789,601"/>
<path class="c" d="M789,601L789,748"/>
<path class="c" d="M719,649.8L846,649.8"/>
<path class="t" d="M846,649.8L919,649.8"/>
<path class="o" d="M744.4,614.3V603.8Q766,601.6 789,601.2Q812,601.6 834,603.8V610H836.6V680.5H834V735H744.4V720.6L745.6,720V682.6L742.4,680V615.8Z" />
<path class="o" d="M742,621.4H724.4Q721,621.4 721,625V675.2Q721,678.8 724.4,678.8H742" />
<path class="t" d="M836.6,616H838.4V625H840V669H838.4V680" />
<path d="M839.3,631.5V669.8" stroke="#555" stroke-width="1.7" fill="none"/>
<path class="n" d="M763.4,609.5L816.6,609.5"/>
<path class="n" d="M744.4,729.2L834,729.2"/>
<path class="t" d="M746.3,604L746.3,734"/>
<path class="t" d="M833.6,610L833.6,681"/>
<rect class="n" x="746.3" y="609.5" width="17.1" height="22.7" rx="2.2"/>
<circle class="n" cx="753.6" cy="621.2" r="3.4" />
<circle class="t" cx="753.6" cy="621.2" r="2" />
<rect class="n" x="746.3" y="658.2" width="17.1" height="24.6" rx="2.2"/>
<circle class="n" cx="752.8" cy="670.4" r="3.4" />
<circle class="t" cx="752.8" cy="670.4" r="2" />
<rect class="n" x="746.3" y="705.4" width="17.1" height="23.8" rx="2.2"/>
<circle class="n" cx="753" cy="718" r="3.4" />
<circle class="t" cx="753" cy="718" r="2" />
<rect class="t" x="744.7" y="632.6" width="18.7" height="25.2" rx="2"/>
<path class="t" d="M753.6,633.1L753.6,657.3"/>
<rect class="t" x="744.7" y="683.2" width="18.7" height="21.8" rx="2"/>
<path class="t" d="M753.6,683.7L753.6,704.5"/>
<rect class="n" x="816.6" y="609.5" width="17" height="22.7" rx="2.2"/>
<circle class="n" cx="826" cy="621.2" r="3.4" />
<circle class="t" cx="826" cy="621.2" r="2" />
<rect class="n" x="816.6" y="658.2" width="17" height="24.6" rx="2.2"/>
<circle class="n" cx="827" cy="670.4" r="3.4" />
<circle class="t" cx="827" cy="670.4" r="2" />
<rect class="n" x="816.6" y="705.4" width="17" height="23.8" rx="2.2"/>
<circle class="n" cx="827.6" cy="718" r="3.4" />
<circle class="t" cx="827.6" cy="718" r="2" />
<rect class="t" x="816.6" y="632.6" width="18.6" height="25.2" rx="2"/>
<path class="t" d="M826,633.1L826,657.3"/>
<rect class="t" x="816.6" y="683.2" width="18.6" height="21.8" rx="2"/>
<path class="t" d="M826,683.7L826,704.5"/>
<path class="t" d="M721,533L721,621"/>
<path class="t" d="M839.4,533L839.4,614"/>
<path class="t" d="M721,535.6L789,535.6"/>
<path class="a" d="M721,535.6L729.6,534.1L729.6,537.1Z"/>
<path class="a" d="M789,535.6L780.4,534.1L780.4,537.1Z"/>
<path class="t" d="M789,535.6L839.4,535.6"/>
<path class="a" d="M789,535.6L797.6,534.1L797.6,537.1Z"/>
<path class="a" d="M839.4,535.6L830.8,534.1L830.8,537.1Z"/>
<text x="754.8" y="533" font-size="14" text-anchor="middle" >442</text>
<text x="815" y="533" font-size="14" text-anchor="middle" >305</text>
<path class="t" d="M753.6,559.6L753.6,618"/>
<path class="t" d="M825.6,559.6L825.6,619"/>
<path class="t" d="M753.6,563.6L825.6,563.6"/>
<path class="a" d="M753.6,563.6L762.2,562.1L762.2,565.1Z"/>
<path class="a" d="M825.6,563.6L817,562.1L817,565.1Z"/>
<text x="789.3" y="561" font-size="14" text-anchor="middle" >480</text>
<path class="t" d="M825.6,563.6L869,563.6"/>
<path class="a" d="M839.4,563.6L848,562.1L848,565.1Z"/>
<text x="853" y="561" font-size="14" >65</text>
<path class="t" d="M837.6,585.6L837.6,616"/>
<path class="t" d="M823.6,588L869,588"/>
<path class="a" d="M837.6,588L829,586.5L829,589.5Z"/>
<path class="a" d="M839.4,588L848,586.5L848,589.5Z"/>
<text x="861" y="585.6" font-size="14" >9</text>
<path class="t" d="M834,621L844,621"/>
<path class="t" d="M844,670L866,670"/>
<path class="t" d="M861.6,614L861.6,684"/>
<path class="a" d="M861.6,649.8L860.1,641.2L863.1,641.2Z"/>
<path class="a" d="M861.6,670L860.1,678.6L863.1,678.6Z"/>
<text x="857.9" y="624.6" font-size="14" text-anchor="middle" transform="rotate(-90 857.9 624.6)" >115</text>
<path class="t" d="M868,621.2L919,621.2"/>
<path class="t" d="M838,735.2L919,735.2"/>
<path class="t" d="M915.4,621.2L915.4,735.2"/>
<path class="a" d="M915.4,621.2L913.9,629.8L916.9,629.8Z"/>
<path class="a" d="M915.4,649.8L913.9,641.2L916.9,641.2Z"/>
<path class="a" d="M915.4,649.8L913.9,658.4L916.9,658.4Z"/>
<path class="a" d="M915.4,735.2L913.9,726.6L916.9,726.6Z"/>
<text x="912.3" y="635.8" font-size="14" text-anchor="middle" transform="rotate(-90 912.3 635.8)" >155</text>
<text x="912.3" y="708" font-size="14" transform="rotate(-90 912.3 708)" >500</text>
<text x="912.3" y="683.6" font-size="9.5" transform="rotate(-90 912.3 683.6)" >-1</text>
<path class="t" d="M838,718L890,718"/>
<path class="t" d="M887,649.8L887,718"/>
<path class="a" d="M887,649.8L885.5,658.4L888.5,658.4Z"/>
<path class="a" d="M887,718L885.5,709.4L888.5,709.4Z"/>
<text x="884.6" y="683.6" font-size="14" text-anchor="middle" transform="rotate(-90 884.6 683.6)" >385</text>
<path class="t" d="M702.5,621.4L721,621.4"/>
<path class="t" d="M702.5,678.8L721,678.8"/>
<path class="t" d="M705.7,621.4L705.7,678.8"/>
<path class="a" d="M705.7,621.4L704.2,630L707.2,630Z"/>
<path class="a" d="M705.7,678.8L704.2,670.2L707.2,670.2Z"/>
<text x="703.7" y="650" font-size="14.8" text-anchor="middle" transform="rotate(-90 703.7 650)" >Ø315</text>
<text x="671" y="655.6" font-size="13" >A</text>
<path class="m" d="M687.6,650.3H682.8V656" />
<path class="a" d="M682.8,663.2L681.3,655.7L684.3,655.7Z"/>
<text x="934.8" y="655.6" font-size="13" >A</text>
<path class="m" d="M925.6,650.3H930.3V656" />
<path class="a" d="M930.3,663.2L928.8,655.7L931.8,655.7Z"/>
<path class="t" d="M744.4,737L744.4,792"/>
<path class="t" d="M763,737L763,767.4"/>
<path class="t" d="M834.4,737L834.4,792"/>
<path class="t" d="M731,765L798,765"/>
<path class="a" d="M744.4,765L735.8,763.5L735.8,766.5Z"/>
<path class="a" d="M763,765L771.6,763.5L771.6,766.5Z"/>
<text x="775.6" y="763" font-size="14" >104</text>
<path class="t" d="M823.6,719L823.6,767.4"/>
<path class="t" d="M830,719L830,767.4"/>
<path class="t" d="M810,765L865,765"/>
<path class="a" d="M823.6,765L815,763.5L815,766.5Z"/>
<path class="a" d="M830,765L838.6,763.5L838.6,766.5Z"/>
<text x="840" y="763" font-size="14" >Ø33</text>
<path class="t" d="M744.4,789.4L834.4,789.4"/>
<path class="a" d="M744.4,789.4L753,787.9L753,790.9Z"/>
<path class="a" d="M834.4,789.4L825.8,787.9L825.8,790.9Z"/>
<text x="790" y="786.6" font-size="14" text-anchor="middle" >580</text>
</g>

<g id="table">
<line x1="78.6" y1="1076.5" x2="1021" y2="1076.5" stroke="#333" stroke-width="1"/>
<line x1="160.8" y1="1102.5" x2="1021" y2="1102.5" stroke="#333" stroke-width="1"/>
<line x1="78.6" y1="1127.6" x2="1021" y2="1127.6" stroke="#333" stroke-width="1"/>
<line x1="78.6" y1="1153.3" x2="1021" y2="1153.3" stroke="#333" stroke-width="1"/>
<line x1="78.6" y1="1178.8" x2="1021" y2="1178.8" stroke="#333" stroke-width="1"/>
<line x1="78.6" y1="1204.2" x2="1021" y2="1204.2" stroke="#333" stroke-width="1"/>
<line x1="78.6" y1="1229.6" x2="1021" y2="1229.6" stroke="#333" stroke-width="1"/>
<line x1="78.6" y1="1255.1" x2="1021" y2="1255.1" stroke="#333" stroke-width="1"/>
<line x1="78.6" y1="1280.2" x2="1021" y2="1280.2" stroke="#333" stroke-width="1"/>
<line x1="78.6" y1="1076.5" x2="78.6" y2="1280.2" stroke="#333" stroke-width="1"/>
<line x1="160.8" y1="1076.5" x2="160.8" y2="1280.2" stroke="#333" stroke-width="1"/>
<line x1="1021" y1="1076.5" x2="1021" y2="1280.2" stroke="#333" stroke-width="1"/>
<line x1="240.1" y1="1102.5" x2="240.1" y2="1280.2" stroke="#333" stroke-width="1"/>
<line x1="318.5" y1="1102.5" x2="318.5" y2="1280.2" stroke="#333" stroke-width="1"/>
<line x1="397.5" y1="1102.5" x2="397.5" y2="1280.2" stroke="#333" stroke-width="1"/>
<line x1="476.3" y1="1102.5" x2="476.3" y2="1280.2" stroke="#333" stroke-width="1"/>
<line x1="554.6" y1="1102.5" x2="554.6" y2="1280.2" stroke="#333" stroke-width="1"/>
<line x1="633.4" y1="1102.5" x2="633.4" y2="1280.2" stroke="#333" stroke-width="1"/>
<line x1="712.2" y1="1102.5" x2="712.2" y2="1280.2" stroke="#333" stroke-width="1"/>
<line x1="791.2" y1="1102.5" x2="791.2" y2="1280.2" stroke="#333" stroke-width="1"/>
<line x1="869.4" y1="1102.5" x2="869.4" y2="1280.2" stroke="#333" stroke-width="1"/>
<line x1="947.5" y1="1102.5" x2="947.5" y2="1280.2" stroke="#333" stroke-width="1"/>
<text x="104.5" y="1098.1" font-size="15">尺寸</text>
<text x="119.5" y="1116" font-size="14" text-anchor="middle" textLength="70" lengthAdjust="spacingAndGlyphs">Dimensions</text>
<text x="172.3" y="1095.1" font-size="14.4" font-weight="bold">电机规格</text>
<text x="581" y="1095.8" font-size="15.1">Motor frame</text>
<text x="191.4" y="1120.1" font-size="14.7" font-weight="bold">160M</text>
<text x="280.5" y="1120.1" font-size="14.7" font-weight="bold" text-anchor="middle">160L</text>
<text x="360.0" y="1120.1" font-size="14.7" font-weight="bold" text-anchor="middle">180</text>
<text x="435.5" y="1120.1" font-size="14.7" font-weight="bold" text-anchor="middle">200</text>
<text x="515.3" y="1120.1" font-size="14.7" font-weight="bold" text-anchor="middle">225</text>
<text x="593.0" y="1120.1" font-size="14.7" font-weight="bold" text-anchor="middle">250M</text>
<text x="674.0" y="1120.1" font-size="14.7" font-weight="bold" text-anchor="middle">280S</text>
<text x="751.5" y="1120.1" font-size="14.7" font-weight="bold" text-anchor="middle">280M</text>
<text x="831.0" y="1120.1" font-size="14.7" font-weight="bold" text-anchor="middle">315S</text>
<text x="905.2" y="1120.1" font-size="14.7" font-weight="bold" text-anchor="middle">315M</text>
<text x="106" y="1145.5" font-size="14.3" font-weight="bold">G</text>
<text x="191.2" y="1145.5" font-size="14.6">275</text>
<text x="280.5" y="1145.5" font-size="14.6" text-anchor="middle">331</text>
<text x="360.0" y="1145.5" font-size="14.6" text-anchor="middle">331</text>
<text x="435.5" y="1145.5" font-size="14.6" text-anchor="middle">394</text>
<text x="515.3" y="1145.5" font-size="14.6" text-anchor="middle">394</text>
<text x="593.0" y="1145.5" font-size="14.6" text-anchor="middle">510</text>
<text x="674.0" y="1145.5" font-size="14.6" text-anchor="middle">510</text>
<text x="751.5" y="1145.5" font-size="14.6" text-anchor="middle">537</text>
<text x="831.0" y="1145.5" font-size="14.6" text-anchor="middle">612</text>
<text x="905.2" y="1145.5" font-size="14.6" text-anchor="middle">612</text>
<text x="106" y="1171.2" font-size="14.3" font-weight="bold">G1</text>
<text x="191.2" y="1171.2" font-size="14.6">230</text>
<text x="280.5" y="1171.2" font-size="14.6" text-anchor="middle">258</text>
<text x="360.0" y="1171.2" font-size="14.6" text-anchor="middle">258</text>
<text x="435.5" y="1171.2" font-size="14.6" text-anchor="middle">285</text>
<text x="515.3" y="1171.2" font-size="14.6" text-anchor="middle">289</text>
<text x="593.0" y="1171.2" font-size="14.6" text-anchor="middle">397</text>
<text x="674.0" y="1171.2" font-size="14.6" text-anchor="middle">397</text>
<text x="751.5" y="1171.2" font-size="14.6" text-anchor="middle">382</text>
<text x="831.0" y="1171.2" font-size="14.6" text-anchor="middle">430</text>
<text x="905.2" y="1171.2" font-size="14.6" text-anchor="middle">430</text>
<text x="106" y="1196.7" font-size="14.3" font-weight="bold">G1B</text>
<text x="191.2" y="1196.7" font-size="14.6">230</text>
<text x="280.5" y="1196.7" font-size="14.6" text-anchor="middle">258</text>
<text x="360.0" y="1196.7" font-size="14.6" text-anchor="middle">258</text>
<text x="435.5" y="1196.7" font-size="14.6" text-anchor="middle">285</text>
<text x="515.3" y="1196.7" font-size="14.6" text-anchor="middle">289</text>
<text x="593.0" y="1196.7" font-size="14.6" text-anchor="middle">397</text>
<text x="674.0" y="1196.7" font-size="14.6" text-anchor="middle">397</text>
<text x="751.5" y="1196.7" font-size="14.6" text-anchor="middle">382</text>
<text x="831.0" y="1196.7" font-size="14.6" text-anchor="middle">430</text>
<text x="905.2" y="1196.7" font-size="14.6" text-anchor="middle">430</text>
<text x="106" y="1222.1" font-size="14.3" font-weight="bold">K</text>
<text x="191.6" y="1222.1" font-size="14.6">1270</text>
<text x="280.5" y="1222.1" font-size="14.6" text-anchor="middle">1317</text>
<text x="360.0" y="1222.1" font-size="14.6" text-anchor="middle">1389</text>
<text x="435.5" y="1222.1" font-size="14.6" text-anchor="middle">1437</text>
<text x="515.3" y="1222.1" font-size="14.6" text-anchor="middle">1519</text>
<text x="593.0" y="1222.1" font-size="14.6" text-anchor="middle">1608</text>
<text x="674.0" y="1222.1" font-size="14.6" text-anchor="middle">1608</text>
<text x="751.5" y="1222.1" font-size="14.6" text-anchor="middle">1761</text>
<text x="831.0" y="1222.1" font-size="14.6" text-anchor="middle">1812</text>
<text x="905.2" y="1222.1" font-size="14.6" text-anchor="middle">1863</text>
<text x="106" y="1247.5" font-size="14.3" font-weight="bold">KB</text>
<text x="191.6" y="1247.5" font-size="14.6">1382</text>
<text x="280.5" y="1247.5" font-size="14.6" text-anchor="middle">1473</text>
<text x="360.0" y="1247.5" font-size="14.6" text-anchor="middle">1545</text>
<text x="435.5" y="1247.5" font-size="14.6" text-anchor="middle">1593</text>
<text x="515.3" y="1247.5" font-size="14.6" text-anchor="middle">1675</text>
<text x="593.0" y="1247.5" font-size="14.6" text-anchor="middle">1793</text>
<text x="674.0" y="1247.5" font-size="14.6" text-anchor="middle">1793</text>
<text x="751.5" y="1247.5" font-size="14.6" text-anchor="middle">1972</text>
<text x="831.0" y="1247.5" font-size="14.6" text-anchor="middle">2040</text>
<text x="905.2" y="1247.5" font-size="14.6" text-anchor="middle">2091</text>
<text x="106" y="1273.0" font-size="14.3" font-weight="bold">KM</text>
<text x="191.2" y="1273.0" font-size="14.6">433</text>
<text x="280.5" y="1273.0" font-size="14.6" text-anchor="middle">480</text>
<text x="360.0" y="1273.0" font-size="14.6" text-anchor="middle">552</text>
<text x="435.5" y="1273.0" font-size="14.6" text-anchor="middle">600</text>
<text x="515.3" y="1273.0" font-size="14.6" text-anchor="middle">682</text>
<text x="593.0" y="1273.0" font-size="14.6" text-anchor="middle">771</text>
<text x="674.0" y="1273.0" font-size="14.6" text-anchor="middle">771</text>
<text x="751.5" y="1273.0" font-size="14.6" text-anchor="middle">924</text>
<text x="831.0" y="1273.0" font-size="14.6" text-anchor="middle">975</text>
<text x="905.2" y="1273.0" font-size="14.6" text-anchor="middle">1026</text>
</g>
<g id="notes">
<text x="81.3" y="1313.3" font-size="14.6" font-weight="bold">尺寸说明</text>
<text x="82" y="1341.9" font-size="14.6">以上尺寸为直联普通电机和制动电机尺寸</text><text x="345.60" y="1341.9" font-size="14.8" font-weight="normal" fill="#1a1a1a">;</text>
<text x="81.30" y="1369.5" font-size="14.8" font-weight="normal" fill="#1a1a1a">G1B, KB</text><text x="139.3" y="1369.5" font-size="14.55">为制动电机尺寸</text><text x="241.78" y="1369.5" font-size="14.8" font-weight="normal" fill="#1a1a1a">,</text><text x="246.2" y="1369.5" font-size="14.58">其余为普通电机尺寸</text><text x="378.19" y="1369.5" font-size="14.8" font-weight="normal" fill="#1a1a1a">;</text>
<text x="82" y="1396.6" font-size="14.6">防爆电机</text><text x="140.50" y="1396.6" font-size="14.8" font-weight="normal" fill="#1a1a1a">,</text><text x="145" y="1396.6" font-size="14.6">辊道电机</text><text x="203.81" y="1396.6" font-size="14.8" font-weight="normal" fill="#1a1a1a">,</text><text x="208.2" y="1396.6" font-size="14.7">船用电机等需加过渡法兰</text><text x="370.72" y="1396.6" font-size="14.8" font-weight="normal" fill="#1a1a1a">,</text><text x="375" y="1396.6" font-size="14.6">见</text><text x="389.64" y="1396.6" font-size="14.8" font-weight="normal" fill="#1a1a1a">364</text><text x="414.8" y="1396.6" font-size="14.6">页。</text>
<text x="616.5" y="1313.3" font-size="14.9" font-weight="bold">ATTENTION</text>
<text x="616.5" y="1341.2" font-size="14.8">Dimensions of general and brake motor shown in upon table,</text>
<text x="616.5" y="1368.6" font-size="14.8">the others like explosion, roller, or marine motor coupled by</text>
<text x="616.5" y="1396.2" font-size="14.8">adaptor, the dimensions on page 364.</text>
<rect x="79" y="1433.9" width="942" height="1.5" fill="#555"/>
<text x="550.1" y="1466.2" font-size="22.2" text-anchor="middle">359</text>
</g>
</svg>
</body></html>
